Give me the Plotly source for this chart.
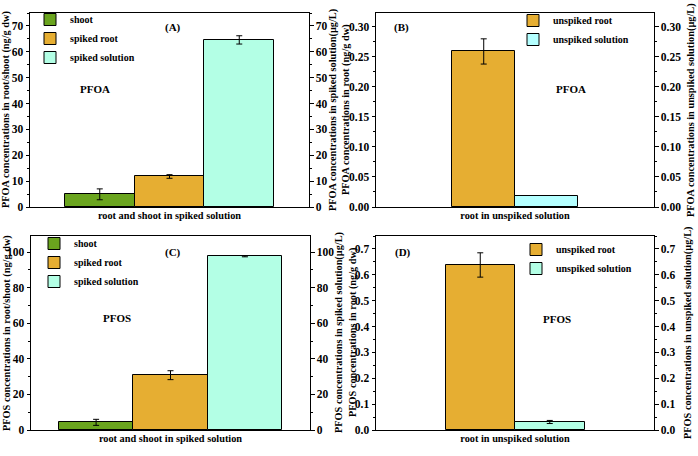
import plotly.graph_objects as go

W, H = 698, 456

# ---------------- data ----------------
spiked_cat = ["root and shoot in spiked solution"]
unspiked_cat = ["root in unspiked solution"]

spiked_names = ["shoot", "spiked root", "spiked solution"]
unspiked_names = ["unspiked root", "unspiked solution"]

pfoa_spiked_vals = [4.9, 11.8, 64.6]
pfoa_spiked_err = [2.1, 0.7, 1.6]
pfoa_unspiked_vals = [0.259, 0.018]
pfoa_unspiked_err = [0.021, 0.0]

pfos_spiked_vals = [4.3, 30.8, 97.6]
pfos_spiked_err = [1.7, 2.5, 0.3]
pfos_unspiked_vals = [0.638, 0.031]
pfos_unspiked_err = [0.047, 0.006]

spiked_colors = ["#6aa41e", "#e6ae32", "#b3ffe5"]
unspiked_colors_A = ["#e6ae32", "#b4ffff"]
unspiked_colors_D = ["#e6ae32", "#b3ffe5"]

FONT = "Liberation Serif"


def px_x(p):
    return p / W


def px_y(p):
    return 1 - p / H


fig = go.Figure()


def add_bars(names, vals, errs, colors, cat, xa, ya_left, ya_right, leg, grp):
    # the last series (solution) is read on the right-hand axis
    for j, (n, v, e, c) in enumerate(zip(names, vals, errs, colors)):
        ya = ya_right if j == len(names) - 1 else ya_left
        fig.add_trace(go.Bar(
            x=cat, y=[v], name=n, xaxis=xa, yaxis=ya, legend=leg,
            alignmentgroup=grp, offsetgroup=grp + str(j),
            marker=dict(color=c, line=dict(color="black", width=1)),
            error_y=dict(type="data", array=[e], visible=e > 0,
                         color="black", thickness=1, width=3),
        ))


add_bars(spiked_names, pfoa_spiked_vals, pfoa_spiked_err, spiked_colors, spiked_cat, "x", "y", "y5", "legend", "A")
add_bars(unspiked_names, pfoa_unspiked_vals, pfoa_unspiked_err, unspiked_colors_A, unspiked_cat, "x2", "y2", "y6", "legend2", "B")
add_bars(spiked_names, pfos_spiked_vals, pfos_spiked_err, spiked_colors, spiked_cat, "x3", "y3", "y7", "legend3", "C")
add_bars(unspiked_names, pfos_unspiked_vals, pfos_unspiked_err, unspiked_colors_D, unspiked_cat, "x4", "y4", "y8", "legend4", "D")

tickfont = dict(family=FONT, size=11.5, color="black", weight="bold")
titlefont = dict(family=FONT, size=10.3, color="black", weight="bold")

panels = [
    # xdom (px), ydom (px), xhalf, yrange, dtick, minor, fmt, xtitle
    ((30, 309), (13, 207), 0.5 / 0.75, [0, 75], 10, 5, "d",
     "root and shoot in spiked solution"),
    ((376, 654), (13, 207), 0.5 / 0.45, [0, 0.323], 0.05, 0.025, ".2f",
     "root in unspiked solution"),
    ((31, 310), (236, 430), 0.5 / 0.8, [0, 109], 20, 10, "d",
     "root and shoot in spiked solution"),
    ((376, 654), (236, 430), 0.5 / 0.5, [0, 0.75], 0.1, 0.05, ".1f",
     "root in unspiked solution"),
]

layout = {}
for i, (xd, yd, xh, yr, dt, mn, fmt, xt) in enumerate(panels):
    k = i + 1
    xs = "" if k == 1 else str(k)
    ys_left = "" if k == 1 else str(k)
    ys_right = str(k + 4)
    layout["xaxis" + xs] = dict(
        domain=[px_x(xd[0]), px_x(xd[1])], anchor="y" + ys_left,
        range=[-xh, xh], showticklabels=False, ticks="",
        showline=True, linecolor="black", linewidth=1, mirror=True,
        showgrid=False, zeroline=False, fixedrange=True, automargin=False,
        title=dict(text=xt, font=titlefont, standoff=4),
    )
    common_y = dict(
        range=yr, dtick=dt, tick0=0, tickformat=fmt,
        ticks="outside", ticklen=3.5, tickwidth=1, tickcolor="black",
        minor=dict(dtick=mn, ticks="outside", ticklen=2, tickcolor="black", tickwidth=1),
        showline=True, linecolor="black", linewidth=1,
        showgrid=False, zeroline=False, tickfont=tickfont,
        fixedrange=True, automargin=False,
    )
    layout["yaxis" + ys_left] = dict(
        common_y, domain=[px_y(yd[1]), px_y(yd[0])], anchor="x" + xs, side="left",
    )
    layout["yaxis" + ys_right] = dict(
        common_y, overlaying="y" + ys_left, anchor="x" + xs, side="right",
    )

legfont = dict(family=FONT, size=10, color="black", weight="bold")
leg_pos = [(30, 5), (513, 6), (34, 229), (516, 235)]
for i, (lx, ly) in enumerate(leg_pos):
    name = "legend" if i == 0 else "legend" + str(i + 1)
    layout[name] = dict(
        x=px_x(lx), y=px_y(ly), xanchor="left", yanchor="top",
        bgcolor="rgba(0,0,0,0)", borderwidth=0, font=legfont,
        tracegroupgap=0, traceorder="normal", itemclick=False, itemdoubleclick=False,
    )

annfont = dict(family=FONT, size=11, color="black", weight="bold")
ann = [
    ("(A)", 173, 28), ("PFOA", 95, 89),
    ("(B)", 401, 27), ("PFOA", 571, 89),
    ("(C)", 173, 252), ("PFOS", 117, 318),
    ("(D)", 403, 252), ("PFOS", 557, 319),
]
annotations = [
    dict(text=t, x=px_x(x), y=px_y(y), xref="paper", yref="paper",
         showarrow=False, font=annfont, xanchor="center", yanchor="middle")
    for t, x, y in ann
]

# y-axis titles (rotated), placed beside each axis
ytitles = [
    ("PFOA concentrations in root/shoot (ng/g dw)", 6, 110),
    ("PFOA concentrations in spiked solution(µg/L)", 333, 110),
    ("PFOA concentrations in root (ng/g dw)", 346, 110),
    ("PFOA concentrations in unspiked solution(µg/L)", 691, 110),
    ("PFOS concentrations in root/shoot (ng/g dw)", 7, 333),
    ("PFOS concentrations in spiked solution(µg/L)", 339, 333),
    ("PFOS concentrations in root (ng/g dw)", 353, 333),
    ("PFOS concentrations in unspiked solution(µg/L)", 688, 333),
]
annotations += [
    dict(text=t, x=px_x(x), y=px_y(y), xref="paper", yref="paper",
         showarrow=False, font=titlefont, textangle=-90,
         xanchor="center", yanchor="middle")
    for t, x, y in ytitles
]

fig.update_layout(
    width=W, height=H, margin=dict(l=0, r=0, t=0, b=0),
    paper_bgcolor="white", plot_bgcolor="white",
    barmode="group", bargap=0, bargroupgap=0,
    showlegend=True, annotations=annotations,
    font=dict(family=FONT, color="black"),
    **layout,
)

fig.write_html("out.html", config={"displayModeBar": False},
               post_script="document.body.style.margin='0';")
